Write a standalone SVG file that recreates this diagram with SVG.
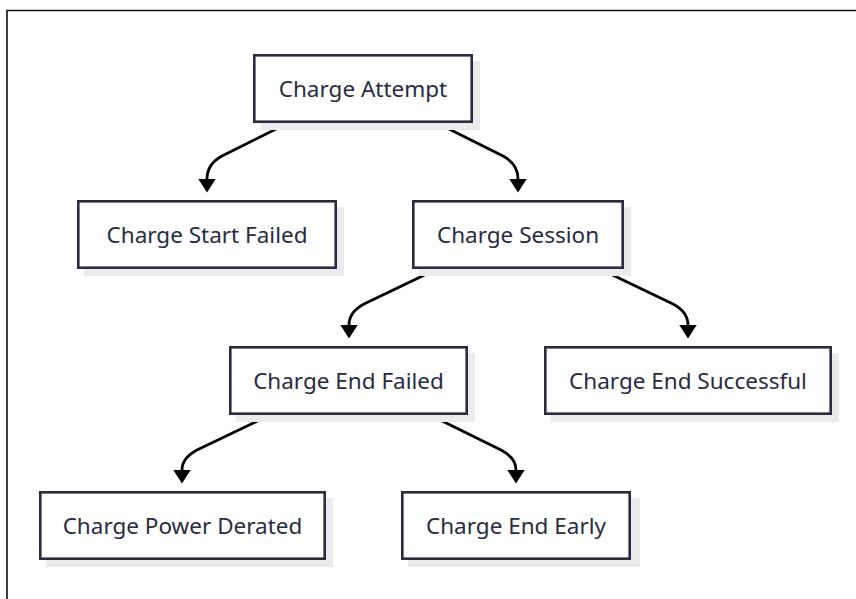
<svg xmlns="http://www.w3.org/2000/svg" width="856" height="599" viewBox="0 0 856 599">
<defs>
<style>
.box{fill:#ffffff;stroke:#2b2b40;stroke-width:2.6}
.shadow{fill:#ebebeb;stroke:none}
.lbl{font-family:"Noto Sans","Liberation Sans",sans-serif;font-size:22.5px;fill:#2b2b3f;text-anchor:middle}
.edge{fill:none;stroke:#000000;stroke-width:2.8;stroke-linecap:round}
</style>
<marker id="arrow" markerUnits="userSpaceOnUse" viewBox="0 0 14 18" markerWidth="14" markerHeight="18" refX="0.5" refY="9" orient="auto">
<path d="M0,0 L14,9 L0,18 z" fill="#000000"/>
</marker>
</defs>
<rect width="856" height="599" fill="#ffffff"/>
<path d="M7,599 V10.5 H856" fill="none" stroke="#111111" stroke-width="1.6"/>

<g id="connectors">
<path class="edge" marker-end="url(#arrow)" d="M288,123 L222,156 Q207,164 207,179"/>
<path class="edge" marker-end="url(#arrow)" d="M437,123 L503,156 Q518,164 518,179"/>
<path class="edge" marker-end="url(#arrow)" d="M437,269 L364,304 Q349,312 349,325"/>
<path class="edge" marker-end="url(#arrow)" d="M600,269 L673,304 Q688,312 688,325"/>
<path class="edge" marker-end="url(#arrow)" d="M270,415 L197,450 Q182,458 182,470"/>
<path class="edge" marker-end="url(#arrow)" d="M430,415 L501,450 Q516,458 516,470"/>
</g>

<g id="charge-attempt">
<rect class="shadow" x="261" y="61" width="219" height="69"/>
<rect class="box" x="254.3" y="55.3" width="217.4" height="66.4"/>
<text class="lbl" x="363" y="96.5">Charge Attempt</text>
</g>

<g id="charge-start-failed">
<rect class="shadow" x="84" y="207" width="260" height="69"/>
<rect class="box" x="78.3" y="201.3" width="257.4" height="66.4"/>
<text class="lbl" x="207" y="242.5">Charge Start Failed</text>
</g>

<g id="charge-session">
<rect class="shadow" x="419" y="207" width="212" height="69"/>
<rect class="box" x="413.3" y="201.3" width="209.4" height="66.4"/>
<text class="lbl" x="518" y="242.5">Charge Session</text>
</g>

<g id="charge-end-failed">
<rect class="shadow" x="236" y="353" width="239" height="69"/>
<rect class="box" x="230.3" y="347.3" width="236.4" height="66.4"/>
<text class="lbl" x="348.5" y="388.5">Charge End Failed</text>
</g>

<g id="charge-end-successful">
<rect class="shadow" x="551" y="353" width="288" height="69"/>
<rect class="box" x="545.3" y="347.3" width="285.4" height="66.4"/>
<text class="lbl" x="688" y="388.5">Charge End Successful</text>
</g>

<g id="charge-power-derated">
<rect class="shadow" x="46" y="498" width="287" height="69"/>
<rect class="box" x="40.3" y="492.3" width="284.4" height="66.4"/>
<text class="lbl" x="182.5" y="533.5">Charge Power Derated</text>
</g>

<g id="charge-end-early">
<rect class="shadow" x="408" y="498" width="232" height="69"/>
<rect class="box" x="402.3" y="492.3" width="227.4" height="66.4"/>
<text class="lbl" x="516" y="533.5">Charge End Early</text>
</g>
</svg>
